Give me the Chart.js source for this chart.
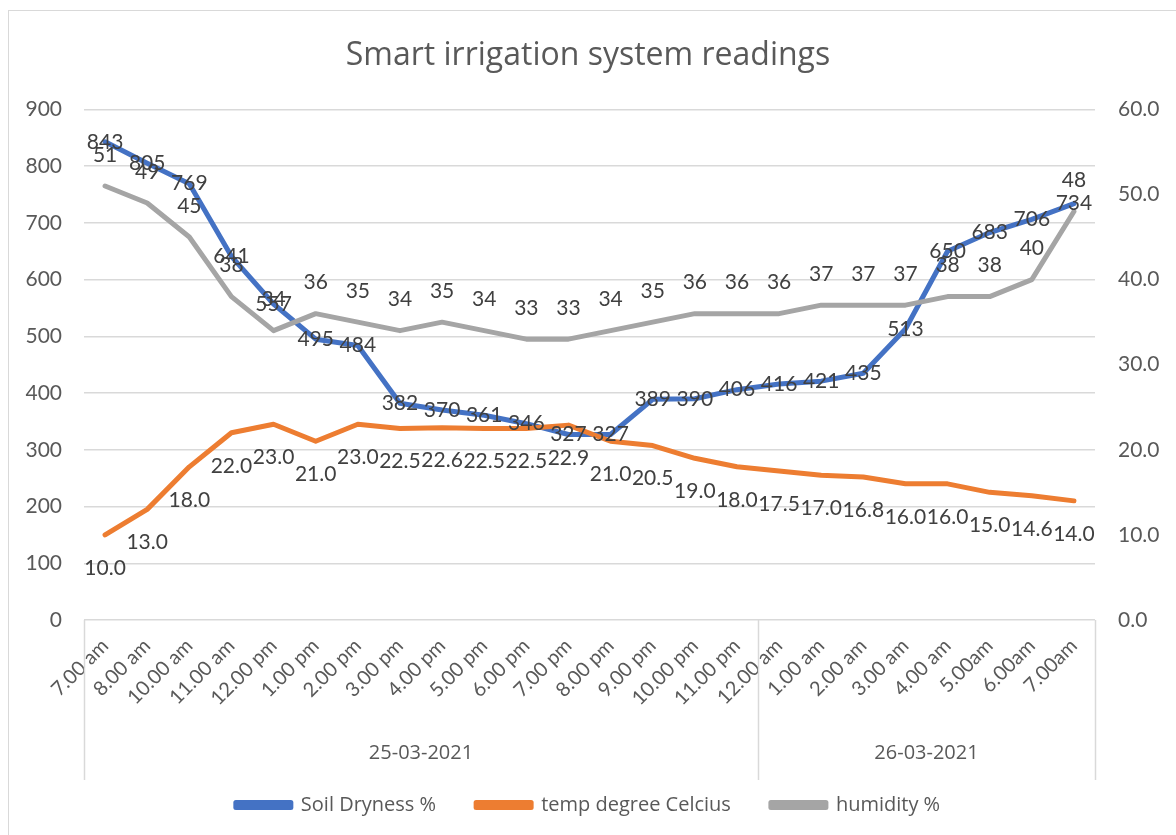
<!DOCTYPE html>
<html>
<head>
<meta charset="utf-8">
<script src="https://cdn.jsdelivr.net/npm/chart.js@4.4.1/dist/chart.umd.min.js"></script>
<style>
    html, body { margin: 0; padding: 0; background: #fff; overflow: hidden; }
    #frame { position: absolute; left: 8px; top: 10px; width: 1300px; height: 1000px; border: 1px solid #d9d9d9; }
    #wrap { position: absolute; left: 0; top: 0; width: 1176px; height: 835px; }
</style>
</head>
<body>
<div id="frame"></div>
<div id="wrap"><canvas id="chart"></canvas></div>
<script>
const times = ['7.00 am', '8.00 am', '10.00 am', '11.00 am', '12.00 pm', '1.00 pm', '2.00 pm',
    '3.00 pm', '4.00 pm', '5.00 pm', '6.00 pm', '7.00 pm', '8.00 pm', '9.00 pm', '10.00 pm',
    '11.00 pm', '12.00 am', '1.00 am', '2.00 am', '3.00 am', '4.00 am', '5.00am', '6.00am', '7.00am'];
const dates = ['25-03-2021', '26-03-2021'];
const dateCounts = [16, 8];

const soilDryness = [843, 805, 769, 641, 557, 495, 484, 382, 370, 361, 346, 327, 327, 389, 390,
    406, 416, 421, 435, 513, 650, 683, 706, 734];
const temperature = [10.0, 13.0, 18.0, 22.0, 23.0, 21.0, 23.0, 22.5, 22.6, 22.5, 22.5, 22.9, 21.0,
    20.5, 19.0, 18.0, 17.5, 17.0, 16.8, 16.0, 16.0, 15.0, 14.6, 14.0];
const humidity = [51, 49, 45, 38, 34, 36, 35, 34, 35, 34, 33, 33, 34, 35, 36, 36, 36, 37, 37, 37,
    38, 38, 40, 48];

const FONT = 'Lato, "Open Sans", sans-serif';
const WIDE = '"Open Sans", Lato, sans-serif';
const TEXT = '#595959';

// data labels, drawn after all lines like excel does
const valueLabels = {
    id: 'valueLabels',
    afterDatasetsDraw(chart) {
        const ctx = chart.ctx;
        ctx.save();
        ctx.font = '21px ' + FONT;
        ctx.fillStyle = '#404040';
        ctx.textAlign = 'center';
        ctx.textBaseline = 'middle';
        chart.data.datasets.forEach((ds, i) => {
            const meta = chart.getDatasetMeta(i);
            meta.data.forEach((pt, j) => {
                const v = ds.data[j];
                const txt = ds.decimals ? v.toFixed(ds.decimals) : String(v);
                ctx.fillText(txt, pt.x, pt.y + ds.labelShift);
            });
        });
        ctx.restore();
    }
};

// second row of the category axis: dates with separator lines
const dateGroups = {
    id: 'dateGroups',
    afterDraw(chart) {
        const ctx = chart.ctx;
        const x = chart.scales.x;
        const area = chart.chartArea;
        const half = (x.getPixelForValue(1) - x.getPixelForValue(0)) / 2;
        const lineBottom = area.bottom + 160;
        ctx.save();
        ctx.strokeStyle = '#d9d9d9';
        ctx.lineWidth = 1.5;
        ctx.font = '20px ' + WIDE;
        ctx.fillStyle = TEXT;
        ctx.textAlign = 'center';
        ctx.textBaseline = 'middle';
        let start = 0;
        const edges = [x.getPixelForValue(0) - half];
        dateCounts.forEach((n, k) => {
            const left = x.getPixelForValue(start) - half;
            const right = x.getPixelForValue(start + n - 1) + half;
            edges.push(right);
            ctx.fillText(dates[k], (left + right) / 2, area.bottom + 133);
            start += n;
        });
        edges.forEach(px => {
            ctx.beginPath();
            ctx.moveTo(Math.round(px) + 0.5, area.bottom);
            ctx.lineTo(Math.round(px) + 0.5, lineBottom);
            ctx.stroke();
        });
        ctx.restore();
    }
};

const lineStyle = {
    borderWidth: 5,
    pointRadius: 0,
    pointHoverRadius: 0,
    tension: 0,
    borderJoinStyle: 'round',
    borderCapStyle: 'round',
    fill: false,
};

new Chart(document.getElementById('chart'), {
    type: 'line',
    data: {
        labels: times,
        datasets: [
            {
                ...lineStyle,
                label: 'Soil Dryness %',
                data: soilDryness,
                borderColor: '#4472C4',
                backgroundColor: '#4472C4',
                yAxisID: 'y',
                order: 3,
                labelShift: 0,
                decimals: 0,
            },
            {
                ...lineStyle,
                label: 'temp degree Celcius',
                data: temperature,
                borderColor: '#ED7D31',
                backgroundColor: '#ED7D31',
                yAxisID: 'y1',
                order: 2,
                labelShift: 33,
                decimals: 1,
            },
            {
                ...lineStyle,
                label: 'humidity %',
                data: humidity,
                borderColor: '#A5A5A5',
                backgroundColor: '#A5A5A5',
                yAxisID: 'y1',
                order: 1,
                labelShift: -31,
                decimals: 0,
            },
        ],
    },
    options: {
        responsive: true,
        maintainAspectRatio: false,
        animation: false,
        layout: { padding: { left: 0, right: 0, top: 0, bottom: 10 } },
        plugins: {
            title: {
                display: true,
                text: 'Smart irrigation system readings',
                color: TEXT,
                font: { family: WIDE, size: 32, weight: 'normal' },
                padding: { top: 37, bottom: 34 },
            },
            legend: {
                position: 'bottom',
                labels: {
                    color: TEXT,
                    font: { family: WIDE, size: 20 },
                    boxWidth: 55,
                    boxHeight: 5,
                    padding: 40,
                    sort: (a, b) => a.datasetIndex - b.datasetIndex,
                },
            },
            tooltip: { enabled: false },
        },
        scales: {
            x: {
                offset: true,
                grid: { display: false },
                border: { display: false },
                ticks: {
                    color: TEXT,
                    font: { family: FONT, size: 20 },
                    maxRotation: 45,
                    minRotation: 45,
                    autoSkip: false,
                    padding: 6,
                },
                afterFit: (s) => { s.height = 135; },
            },
            y: {
                position: 'left',
                min: 0,
                max: 900,
                ticks: {
                    stepSize: 100,
                    color: TEXT,
                    font: { family: FONT, size: 21 },
                    padding: 22,
                },
                grid: { color: '#d9d9d9', lineWidth: 1.5, drawTicks: false },
                border: { display: false },
                afterFit: (s) => { s.width = 84; },
            },
            y1: {
                position: 'right',
                min: 0,
                max: 60,
                ticks: {
                    stepSize: 10,
                    color: TEXT,
                    font: { family: FONT, size: 21 },
                    padding: 23,
                    callback: (v) => v.toFixed(1),
                },
                grid: { drawOnChartArea: false, drawTicks: false },
                border: { display: false },
                afterFit: (s) => { s.width = 81; },
            },
        },
    },
    plugins: [valueLabels, dateGroups],
});
</script>
</body>
</html>
